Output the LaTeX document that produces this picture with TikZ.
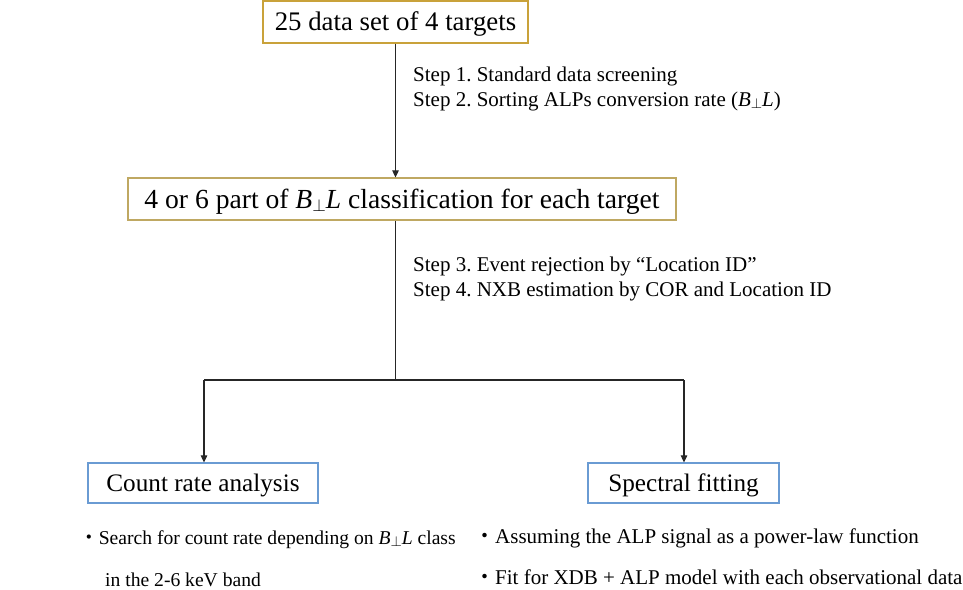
\documentclass[tikz,border=0pt]{standalone}
\usepackage{fontspec}
\setmainfont{Liberation Serif}
\newfontfamily\cjk{Noto Sans CJK JP}
\usetikzlibrary{arrows.meta}
\frenchspacing
\definecolor{goldA}{HTML}{C9A23A}
\definecolor{goldB}{HTML}{BFA862}
\definecolor{blueB}{HTML}{6A9BD3}
\newcommand{\BL}{\textit{B}\raisebox{-0.25ex}{\scalebox{0.7}{$\perp$}}\textit{L}}
\begin{document}
\begin{tikzpicture}[x=1pt,y=-1pt,
  topbox/.style={draw=goldA,line width=1.2pt,minimum height=42pt,inner sep=0pt,text height=17.7pt,text depth=0pt,font=\fontsize{26.8}{30}\selectfont},
  midbox/.style={draw=goldB,line width=1.2pt,minimum height=42pt,inner sep=0pt,text height=18.2pt,text depth=0pt,font=\fontsize{27.6}{30}\selectfont},
  botbox/.style={draw=blueB,line width=1.2pt,minimum height=40pt,inner sep=0pt,text height=16.8pt,text depth=0pt,font=\fontsize{25.2}{28}\selectfont},
  steptxt/.style={anchor=base west,inner sep=0pt,font=\fontsize{21}{24}\selectfont},
  bultxtL/.style={anchor=base west,inner sep=0pt,font=\fontsize{19.6}{24}\selectfont},
  bultxtR/.style={anchor=base west,inner sep=0pt,font=\fontsize{21}{24}\selectfont},
  conn/.style={draw=black!85,line width=1.1pt},
  arr/.style={conn,-{Triangle[length=7pt,width=6.5pt]}}]
\useasboundingbox (0,0) rectangle (963,589);
\node[topbox,minimum width=265pt] (b1) at (395.5,22) {25 data set of 4 targets};
\node[midbox,minimum width=548pt] (b2) at (402,199) {4 or 6 part of \BL{} classification for each target};
\node[botbox,minimum width=230pt] (b3) at (203,483) {Count rate analysis};
\node[botbox,minimum width=191pt] (b4) at (683.5,483) {Spectral fitting};
\node[steptxt] (s1) at (413,81) {Step 1. Standard data screening};
\node[steptxt] (s2) at (413,106) {Step 2. Sorting ALPs conversion rate (\BL)};
\node[steptxt] (s3) at (413,271) {Step 3. Event rejection by “Location ID”};
\node[steptxt] (s4) at (413,296) {Step 4. NXB estimation by COR and Location ID};
\node[bultxtL] (t1) at (79,544) {{\cjk ・}Search for count rate depending on \BL{} class};
\node[bultxtL] (t2) at (105,586) {in the 2-6 keV band};
\node[bultxtR] (t3) at (474,543) {{\cjk ・}Assuming the ALP signal as a power-law function};
\node[bultxtR] (t4) at (474,584) {{\cjk ・}Fit for XDB + ALP model with each observational data};
\coordinate (j) at (395.5,380);
\coordinate (jl) at (204,380);
\coordinate (jr) at (684,380);
\draw[arr] (b1.south) -- (b1.south |- b2.north);
\draw[conn] (b1.south |- b2.south) -- (j);
\draw[conn] (jl) -- (jr);
\draw[arr] (jl) -- (jl |- b3.north);
\draw[arr] (jr) -- (jr |- b4.north);
\end{tikzpicture}
\end{document}
